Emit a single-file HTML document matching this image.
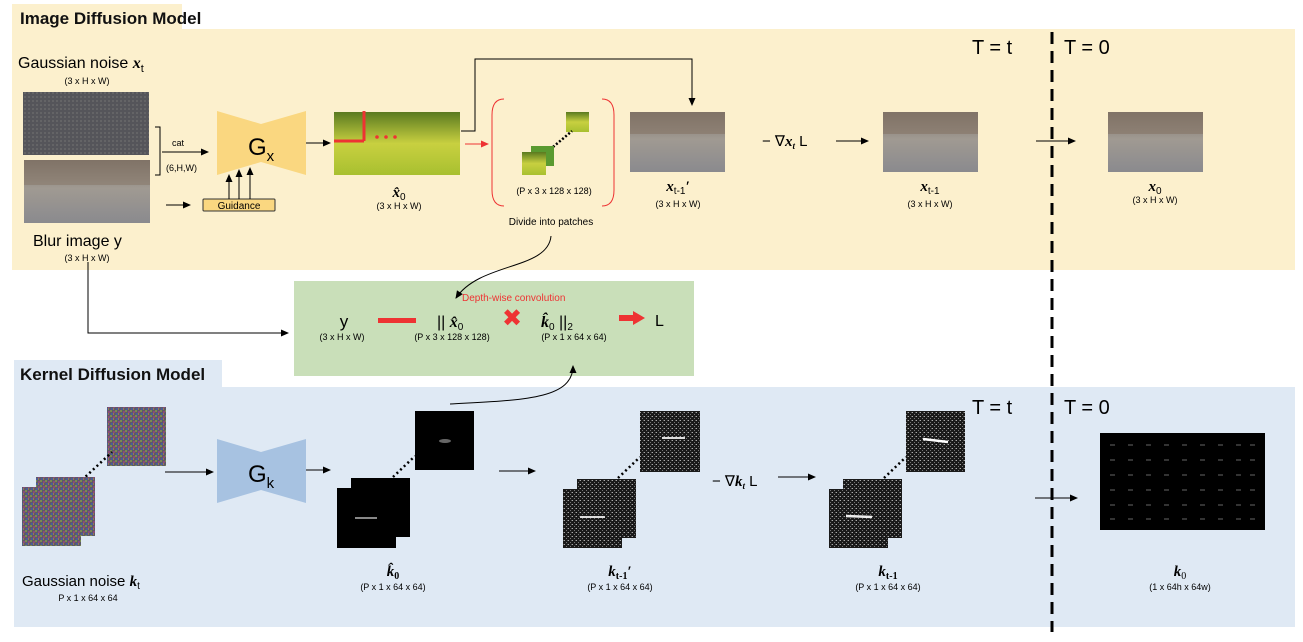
<!DOCTYPE html>
<html><head><meta charset="utf-8"><style>
html,body{margin:0;padding:0;background:#fff}
svg{display:block}
text{font-family:"Liberation Sans","DejaVu Sans",sans-serif}
.m{font-family:"Liberation Serif",serif;font-style:italic;font-weight:bold}
</style></head><body>
<svg width="1303" height="642" viewBox="0 0 1303 642" xmlns="http://www.w3.org/2000/svg">
<defs>
<marker id="a" markerWidth="8" markerHeight="8" refX="7" refY="4" orient="auto" markerUnits="userSpaceOnUse"><path d="M0,0.5 L8,4 L0,7.5z" fill="#000"/></marker>
<marker id="r" markerWidth="8" markerHeight="8" refX="7" refY="4" orient="auto" markerUnits="userSpaceOnUse"><path d="M0,0.5 L8,4 L0,7.5z" fill="#e33"/></marker>
<pattern id="cn" width="5" height="5" patternUnits="userSpaceOnUse"><rect width="5" height="5" fill="#5d5a68"/><rect width="2" height="2" fill="#7a8a50"/><rect x="3" y="1" width="2" height="2" fill="#8a4a7a"/><rect x="1" y="3" width="2" height="2" fill="#4a5a9a"/><rect x="3" y="3" width="1" height="2" fill="#9a7a4a"/></pattern>
<pattern id="gn" width="4" height="4" patternUnits="userSpaceOnUse"><rect width="4" height="4" fill="#55555a"/><rect width="2" height="2" fill="#646466"/></pattern>
<pattern id="kn" width="4" height="4" patternUnits="userSpaceOnUse"><rect width="4" height="4" fill="#1a1a1a"/><rect width="1" height="1" fill="#aaa"/><rect x="2" y="2" width="1" height="1" fill="#777"/><rect x="3" y="0" width="1" height="1" fill="#555"/></pattern>
<linearGradient id="st" x1="0" y1="0" x2="0" y2="1"><stop offset="0" stop-color="#7a7068"/><stop offset="0.45" stop-color="#a09a92"/><stop offset="1" stop-color="#8a8a8e"/></linearGradient>
<linearGradient id="yel" x1="0" y1="0" x2="0" y2="1"><stop offset="0" stop-color="#5a7a20"/><stop offset="0.5" stop-color="#c8d040"/><stop offset="1" stop-color="#a8c030"/></linearGradient>
<g id="street"><rect width="95" height="60" fill="url(#st)"/><rect width="95" height="22" fill="#857565" opacity="0.6"/></g>
</defs>

<rect x="12" y="4" width="170" height="26" fill="#fcf0cd"/>
<rect x="12" y="29" width="1283" height="241" fill="#fcf0cd"/>
<text x="20" y="24" font-size="17" font-weight="bold" fill="#111">Image Diffusion Model</text>
<rect x="14" y="360" width="208" height="28" fill="#dfe9f4"/>
<rect x="14" y="387" width="1281" height="240" fill="#dfe9f4"/>
<text x="20" y="380" font-size="17" font-weight="bold" fill="#111">Kernel Diffusion Model</text>
<rect x="294" y="281" width="400" height="95" fill="#c9dfb9"/>

<line x1="1052" y1="32" x2="1052" y2="632" stroke="#000" stroke-width="3" stroke-dasharray="12,7"/>
<text x="972" y="54" font-size="20">T = t</text>
<text x="1064" y="54" font-size="20">T = 0</text>
<text x="972" y="414" font-size="20">T = t</text>
<text x="1064" y="414" font-size="20">T = 0</text>

<text x="18" y="68" font-size="16">Gaussian noise <tspan class="m">x</tspan><tspan font-size="11" dy="4">t</tspan></text>
<text x="87" y="84" font-size="9" text-anchor="middle">(3 x H x W)</text>
<rect x="23" y="92" width="126" height="63" fill="url(#gn)"/>
<rect x="24" y="160" width="126" height="63" fill="url(#st)"/>
<rect x="24" y="160" width="126" height="25" fill="#857565" opacity="0.5"/>
<text x="33" y="246" font-size="16">Blur image y</text>
<text x="87" y="261" font-size="9" text-anchor="middle">(3 x H x W)</text>
<path d="M155,127 H160 V175 H155" fill="none" stroke="#000"/>
<text x="172" y="146" font-size="9">cat</text>
<line x1="162" y1="152" x2="208" y2="152" stroke="#000" marker-end="url(#a)"/>
<text x="166" y="171" font-size="9">(6,H,W)</text>
<line x1="166" y1="205" x2="190" y2="205" stroke="#000" marker-end="url(#a)"/>
<path d="M217,111 L261,124 L306,111 L306,175 L261,162 L217,175z" fill="#fad780"/>
<text x="248" y="155" font-size="24">G<tspan font-size="15" dy="6">x</tspan></text>
<rect x="203" y="199" width="72" height="12" fill="#fad780" stroke="#333" rx="1"/>
<text x="239" y="209" font-size="10" text-anchor="middle">Guidance</text>
<line x1="229" y1="199" x2="229" y2="175" stroke="#000" marker-end="url(#a)"/>
<line x1="239" y1="199" x2="239" y2="170" stroke="#000" marker-end="url(#a)"/>
<line x1="250" y1="199" x2="250" y2="168" stroke="#000" marker-end="url(#a)"/>
<line x1="306" y1="143" x2="330" y2="143" stroke="#000" marker-end="url(#a)"/>

<rect x="334" y="112" width="126" height="63" fill="url(#yel)"/>
<line x1="334" y1="141" x2="364" y2="141" stroke="#e33" stroke-width="3"/>
<line x1="364" y1="111" x2="364" y2="141" stroke="#e33" stroke-width="3"/>
<circle cx="377" cy="137" r="1.8" fill="#e33"/><circle cx="386" cy="137" r="1.8" fill="#e33"/><circle cx="395" cy="137" r="1.8" fill="#e33"/>
<text x="399" y="197" font-size="15" class="m" text-anchor="middle">x̂<tspan font-size="10" dy="3" font-style="normal" font-weight="normal" font-family="Liberation Sans">0</tspan></text>
<text x="399" y="209" font-size="9" text-anchor="middle">(3 x H x W)</text>
<line x1="465" y1="144" x2="488" y2="144" stroke="#e33" marker-end="url(#r)"/>
<path d="M504,99 Q492,99 492,115 V190 Q492,206 504,206" fill="none" stroke="#e33"/>
<path d="M602,99 Q614,99 614,115 V190 Q614,206 602,206" fill="none" stroke="#e33"/>
<rect x="566" y="112" width="23" height="20" fill="url(#yel)"/>
<line x1="553" y1="147" x2="572" y2="131" stroke="#000" stroke-width="2.5" stroke-dasharray="2,2"/>
<rect x="531" y="146" width="23" height="20" fill="#5a9a30"/>
<rect x="522" y="152" width="24" height="23" fill="url(#yel)"/>
<text x="554" y="194" font-size="9" text-anchor="middle">(P x 3 x 128 x 128)</text>
<text x="551" y="225" font-size="10" text-anchor="middle">Divide into patches</text>
<path d="M551,236 C548,270 480,262 456,298" fill="none" stroke="#000" marker-end="url(#a)"/>

<path d="M461,131 H475 V59 H692 V105" fill="none" stroke="#000" marker-end="url(#a)"/>
<use href="#street" x="630" y="112"/>
<text x="678" y="191" font-size="15" class="m" text-anchor="middle">x<tspan font-size="10" dy="3" font-style="normal" font-weight="normal" font-family="Liberation Sans">t-1</tspan><tspan dy="-3">′</tspan></text>
<text x="678" y="207" font-size="9" text-anchor="middle">(3 x H x W)</text>
<text x="762" y="146" font-size="15">− ∇<tspan class="m">x</tspan><tspan font-size="9" dy="3" class="m">t</tspan><tspan dy="-3"> L</tspan></text>
<line x1="836" y1="141" x2="868" y2="141" stroke="#000" marker-end="url(#a)"/>
<use href="#street" x="883" y="112"/>
<text x="930" y="191" font-size="15" class="m" text-anchor="middle">x<tspan font-size="10" dy="3" font-style="normal" font-weight="normal" font-family="Liberation Sans">t-1</tspan></text>
<text x="930" y="207" font-size="9" text-anchor="middle">(3 x H x W)</text>
<line x1="1036" y1="141" x2="1075" y2="141" stroke="#000" marker-end="url(#a)"/>
<use href="#street" x="1108" y="112"/>
<text x="1155" y="191" font-size="15" class="m" text-anchor="middle">x<tspan font-size="10" dy="3" font-style="normal" font-weight="normal" font-family="Liberation Sans">0</tspan></text>
<text x="1155" y="203" font-size="9" text-anchor="middle">(3 x H x W)</text>

<path d="M88,262 V333 H288" fill="none" stroke="#000" marker-end="url(#a)"/>
<text x="462" y="301" font-size="10" fill="#e33">Depth-wise convolution</text>
<text x="344" y="327" font-size="17" text-anchor="middle">y</text>
<text x="342" y="340" font-size="9" text-anchor="middle">(3 x H x W)</text>
<rect x="378" y="318" width="38" height="5" fill="#e33"/>
<text x="437" y="327" font-size="16">|| <tspan class="m" font-weight="normal">x̂</tspan><tspan font-size="10" dy="3">0</tspan></text>
<text x="452" y="340" font-size="9" text-anchor="middle">(P x 3 x 128 x 128)</text>
<text x="512" y="326" font-size="24" font-weight="bold" fill="#e33" text-anchor="middle">✖</text>
<text x="541" y="327" font-size="16"><tspan class="m" font-weight="normal">k̂</tspan><tspan font-size="10" dy="3">0</tspan><tspan dy="-3"> ||</tspan><tspan font-size="10" dy="3">2</tspan></text>
<text x="574" y="340" font-size="9" text-anchor="middle">(P x 1 x 64 x 64)</text>
<path d="M619,315 H633 V311 L645,318 L633,325 V321 H619z" fill="#e33"/>
<text x="655" y="326" font-size="16">L</text>
<path d="M450,404 C520,400 573,400 573,366" fill="none" stroke="#000" marker-end="url(#a)"/>

<rect x="107" y="407" width="59" height="59" fill="url(#cn)"/>
<line x1="82" y1="480" x2="112" y2="452" stroke="#000" stroke-width="2.5" stroke-dasharray="2,3"/>
<rect x="36" y="477" width="59" height="59" fill="url(#cn)"/>
<rect x="22" y="487" width="59" height="59" fill="url(#cn)"/>
<text x="22" y="586" font-size="15">Gaussian noise <tspan class="m" font-weight="normal">k</tspan><tspan font-size="10" dy="3">t</tspan></text>
<text x="88" y="601" font-size="9" text-anchor="middle">P x 1 x 64 x 64</text>
<line x1="165" y1="472" x2="213" y2="472" stroke="#000" marker-end="url(#a)"/>
<path d="M217,439 L261,452 L306,439 L306,503 L261,490 L217,503z" fill="#a7c2e1"/>
<text x="248" y="482" font-size="24">G<tspan font-size="15" dy="6">k</tspan></text>
<line x1="306" y1="470" x2="330" y2="470" stroke="#000" marker-end="url(#a)"/>

<rect x="415" y="411" width="59" height="59" fill="#000"/>
<ellipse cx="445" cy="441" rx="6" ry="2" fill="#666"/>
<line x1="393" y1="477" x2="415" y2="456" stroke="#000" stroke-width="2.5" stroke-dasharray="2,3"/>
<rect x="351" y="478" width="59" height="59" fill="#000"/>
<rect x="337" y="488" width="59" height="60" fill="#000"/>
<line x1="355" y1="518" x2="377" y2="518" stroke="#888" stroke-width="2"/>
<text x="393" y="576" font-size="15" class="m" font-weight="normal" text-anchor="middle">k̂<tspan font-size="10" dy="3" font-style="normal">0</tspan></text>
<text x="393" y="590" font-size="9" text-anchor="middle">(P x 1 x 64 x 64)</text>
<line x1="499" y1="471" x2="535" y2="471" stroke="#000" marker-end="url(#a)"/>

<rect x="640" y="411" width="60" height="61" fill="url(#kn)"/>
<line x1="662" y1="438" x2="685" y2="438" stroke="#ddd" stroke-width="2"/>
<line x1="618" y1="478" x2="640" y2="457" stroke="#000" stroke-width="2.5" stroke-dasharray="2,3"/>
<rect x="577" y="479" width="59" height="59" fill="url(#kn)"/>
<rect x="563" y="489" width="59" height="59" fill="url(#kn)"/>
<line x1="580" y1="517" x2="605" y2="517" stroke="#ddd" stroke-width="2"/>
<text x="620" y="576" font-size="15" class="m" font-weight="normal" text-anchor="middle">k<tspan font-size="10" dy="3" font-style="normal">t-1</tspan><tspan dy="-3" font-style="normal">′</tspan></text>
<text x="620" y="590" font-size="9" text-anchor="middle">(P x 1 x 64 x 64)</text>
<text x="712" y="486" font-size="15">− ∇<tspan class="m" font-weight="normal">k</tspan><tspan font-size="9" dy="3" class="m" font-weight="normal">t</tspan><tspan dy="-3"> L</tspan></text>
<line x1="778" y1="477" x2="815" y2="477" stroke="#000" marker-end="url(#a)"/>

<rect x="906" y="411" width="59" height="61" fill="url(#kn)"/>
<line x1="923" y1="439" x2="948" y2="442" stroke="#fff" stroke-width="2.5"/>
<line x1="884" y1="478" x2="906" y2="457" stroke="#000" stroke-width="2.5" stroke-dasharray="2,3"/>
<rect x="843" y="479" width="59" height="59" fill="url(#kn)"/>
<rect x="829" y="489" width="59" height="59" fill="url(#kn)"/>
<line x1="846" y1="516" x2="872" y2="517" stroke="#eee" stroke-width="2.5"/>
<text x="888" y="576" font-size="15" class="m" font-weight="normal" text-anchor="middle">k<tspan font-size="10" dy="3" font-style="normal">t-1</tspan></text>
<text x="888" y="590" font-size="9" text-anchor="middle">(P x 1 x 64 x 64)</text>
<line x1="1035" y1="498" x2="1077" y2="498" stroke="#000" marker-end="url(#a)"/>

<rect x="1100" y="433" width="165" height="97" fill="#000"/>
<g stroke="#666" stroke-width="1">
<path d="M1110,445 h5 M1128,445 h5 M1146,445 h5 M1164,445 h5 M1182,445 h5 M1200,445 h5 M1218,445 h5 M1236,445 h5 M1250,445 h5"/>
<path d="M1110,460 h5 M1128,460 h5 M1146,460 h5 M1164,460 h5 M1182,460 h5 M1200,460 h5 M1218,460 h5 M1236,460 h5 M1250,460 h5"/>
<path d="M1110,475 h5 M1128,475 h5 M1146,475 h5 M1164,475 h5 M1182,475 h5 M1200,475 h5 M1218,475 h5 M1236,475 h5 M1250,475 h5"/>
<path d="M1110,490 h5 M1128,490 h5 M1146,490 h5 M1164,490 h5 M1182,490 h5 M1200,490 h5 M1218,490 h5 M1236,490 h5 M1250,490 h5"/>
<path d="M1110,505 h5 M1128,505 h5 M1146,505 h5 M1164,505 h5 M1182,505 h5 M1200,505 h5 M1218,505 h5 M1236,505 h5 M1250,505 h5"/>
<path d="M1110,519 h5 M1128,519 h5 M1146,519 h5 M1164,519 h5 M1182,519 h5 M1200,519 h5 M1218,519 h5 M1236,519 h5 M1250,519 h5"/>
</g>
<text x="1180" y="576" font-size="15" class="m" text-anchor="middle">k<tspan font-size="10" dy="3" font-style="normal" font-weight="normal">0</tspan></text>
<text x="1180" y="590" font-size="9" text-anchor="middle">(1 x 64h x 64w)</text>
</svg>
</body></html>
